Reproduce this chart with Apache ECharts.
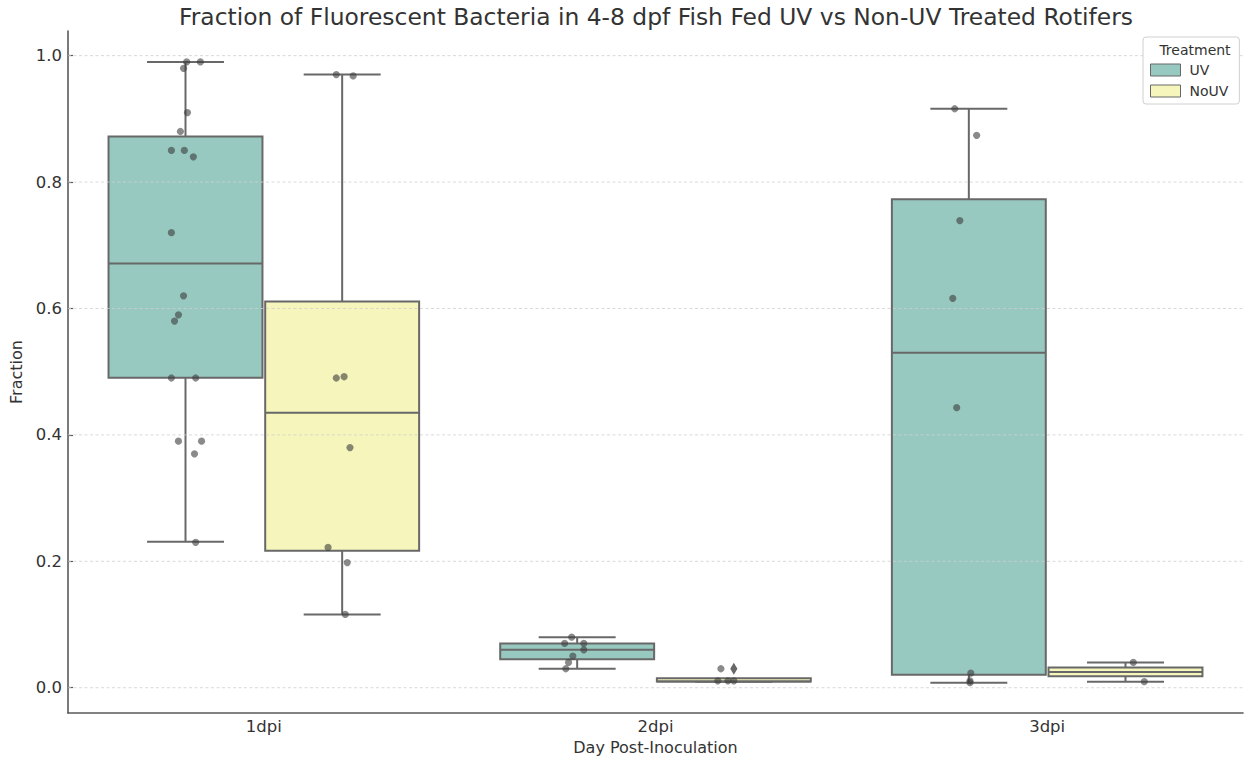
<!DOCTYPE html>
<html>
<head>
<meta charset="utf-8">
<script src="https://cdn.jsdelivr.net/npm/echarts@6.0.0/dist/echarts.min.js"></script>
<style>
  html, body { margin: 0; padding: 0; background: #ffffff; }
  #chart { width: 1244px; height: 759px; }
</style>
</head>
<body>
<div id="chart"></div>
<script>
// ---------------- data ----------------
const categories = ['1dpi', '2dpi', '3dpi'];
const hueNames = ['UV', 'NoUV'];
const yTicks = [0.0, 0.2, 0.4, 0.6, 0.8, 1.0];

// box summaries per category: [categoryIndex, whiskerLow, Q1, median, Q3, whiskerHigh]
const uvBoxes = [
  [0, 0.231, 0.4905, 0.671, 0.872, 0.990],
  [1, 0.030, 0.045, 0.060, 0.070, 0.080],
  [2, 0.008, 0.0205, 0.530, 0.773, 0.916]
];
const noUvBoxes = [
  [0, 0.116, 0.2166, 0.435, 0.611, 0.970],
  [1, 0.010, 0.010, 0.010, 0.015, 0.010],
  [2, 0.0095, 0.018, 0.025, 0.032, 0.040]
];
// box-plot fliers: [categoryIndex, value]
const noUvOutliers = [[1, 0.030]];

// individual fish (strip plot): [categoryIndex, value, jitter (category units)]
const uvPoints = [
  [0, 0.990, 0.003], [0, 0.990, 0.038], [0, 0.980, -0.005], [0, 0.910, 0.005],
  [0, 0.880, -0.013], [0, 0.850, -0.036], [0, 0.850, -0.003], [0, 0.840, 0.020],
  [0, 0.720, -0.036], [0, 0.620, -0.005], [0, 0.590, -0.018], [0, 0.580, -0.028],
  [0, 0.490, -0.036], [0, 0.490, 0.026], [0, 0.390, -0.018], [0, 0.390, 0.041],
  [0, 0.370, 0.023], [0, 0.230, 0.026],
  [1, 0.080, -0.014], [1, 0.070, -0.032], [1, 0.070, 0.017], [1, 0.060, 0.017],
  [1, 0.050, -0.011], [1, 0.040, -0.022], [1, 0.030, -0.029],
  [2, 0.916, -0.036], [2, 0.874, 0.020], [2, 0.739, -0.023], [2, 0.616, -0.041],
  [2, 0.443, -0.031], [2, 0.023, 0.005], [2, 0.011, 0.003], [2, 0.008, 0.003]
];
const noUvPoints = [
  [0, 0.970, -0.015], [0, 0.968, 0.028], [0, 0.490, -0.015], [0, 0.492, 0.005],
  [0, 0.380, 0.020], [0, 0.222, -0.036], [0, 0.198, 0.013], [0, 0.116, 0.008],
  [1, 0.030, -0.033], [1, 0.011, -0.041], [1, 0.011, -0.015], [1, 0.011, 0.000],
  [2, 0.040, 0.020], [2, 0.0095, 0.048]
];

// ---------------- styling ----------------
const UV_COLOR = '#97c9c0';
const NOUV_COLOR = '#f5f5bc';
const LINE = '#686868';
const AXIS = '#5a5a5a';
const TEXT = '#333333';
const FONT = 'DejaVu Sans';
const HUE_OFFSET = 0.2;     // seaborn dodge: +-0.2 category
const BOX_WIDTH = 0.393;    // in category units

function boxRender(side) {
  return function (params, api) {
    const cat = api.value(0);
    const bw = api.size([1, 0])[0];
    const cx = api.coord([cat, 0])[0] + side * HUE_OFFSET * bw;
    const w = BOX_WIDTH * bw, half = w / 2, cap = w / 4;
    const Y = v => api.coord([cat, v])[1];
    const lo = Y(api.value(1)), q1 = Y(api.value(2)), md = Y(api.value(3)),
          q3 = Y(api.value(4)), hi = Y(api.value(5));
    const ls = { stroke: LINE, lineWidth: 2, fill: null };
    return {
      type: 'group',
      children: [
        { type: 'line', shape: { x1: cx, y1: q1, x2: cx, y2: lo }, style: ls },
        { type: 'line', shape: { x1: cx, y1: q3, x2: cx, y2: hi }, style: ls },
        { type: 'line', shape: { x1: cx - cap, y1: lo, x2: cx + cap, y2: lo }, style: ls },
        { type: 'line', shape: { x1: cx - cap, y1: hi, x2: cx + cap, y2: hi }, style: ls },
        { type: 'rect', shape: { x: cx - half, y: q3, width: w, height: q1 - q3 },
          style: { fill: api.visual('color'), stroke: LINE, lineWidth: 2 } },
        { type: 'line', shape: { x1: cx - half, y1: md, x2: cx + half, y2: md }, style: ls }
      ]
    };
  };
}

function pointRender(side) {
  return function (params, api) {
    const cat = api.value(0);
    const bw = api.size([1, 0])[0];
    const p = api.coord([cat, api.value(1)]);
    const cx = p[0] + (side * HUE_OFFSET + api.value(2)) * bw;
    return { type: 'circle', shape: { cx: cx, cy: p[1], r: 3.6 },
             style: { fill: 'rgba(60,60,60,0.6)', stroke: null } };
  };
}

function outlierRender(side) {
  return function (params, api) {
    const cat = api.value(0);
    const bw = api.size([1, 0])[0];
    const p = api.coord([cat, api.value(1)]);
    const cx = p[0] + side * HUE_OFFSET * bw, cy = p[1];
    return { type: 'polygon',
             shape: { points: [[cx, cy - 6], [cx + 3.6, cy], [cx, cy + 6], [cx - 3.6, cy]] },
             style: { fill: LINE, stroke: null } };
  };
}

function gridRender(params, api) {
  const cs = params.coordSys;
  const y = api.coord([0, api.value(1)])[1];
  return { type: 'line', shape: { x1: cs.x, y1: y, x2: cs.x + cs.width, y2: y },
           style: { stroke: '#cfcfcf', lineWidth: 0.8, lineDash: [3, 2.5] } };
}

const chart = echarts.init(document.getElementById('chart'), null, { renderer: 'svg' });

chart.setOption({
  animation: false,
  backgroundColor: '#ffffff',
  textStyle: { fontFamily: FONT },
  title: [
    {
      text: 'Fraction of Fluorescent Bacteria in 4-8 dpf Fish Fed UV vs Non-UV Treated Rotifers',
      left: 651, top: 0, textAlign: 'center',
      textStyle: { fontFamily: FONT, fontSize: 23.4, fontWeight: 'normal', color: TEXT }
    },
    {
      text: 'Treatment',
      left: 1190, top: 38, textAlign: 'center',
      textStyle: { fontFamily: FONT, fontSize: 14, fontWeight: 'normal', color: TEXT }
    }
  ],
  legend: {
    left: 1143, top: 37,
    orient: 'vertical',
    padding: [26, 11, 6, 7],
    itemWidth: 30, itemHeight: 12, itemGap: 7,
    borderColor: '#d0d0d0', borderWidth: 1, borderRadius: 3,
    backgroundColor: '#ffffff',
    textStyle: { fontFamily: FONT, fontSize: 14, color: TEXT, padding: [0, 0, 0, 4] },
    data: [
      { name: hueNames[0], icon: 'rect', itemStyle: { color: UV_COLOR, borderColor: LINE, borderWidth: 1 } },
      { name: hueNames[1], icon: 'rect', itemStyle: { color: NOUV_COLOR, borderColor: LINE, borderWidth: 1 } }
    ]
  },
  grid: { left: 68, right: 1, top: 31, bottom: 46, containLabel: false, outerBoundsMode: 'none' },
  xAxis: {
    type: 'category',
    data: categories,
    boundaryGap: true,
    name: 'Day Post-Inoculation',
    nameLocation: 'middle',
    nameGap: 26,
    nameTextStyle: { fontFamily: FONT, fontSize: 16, color: TEXT, verticalAlign: 'top' },
    axisLine: { onZero: false, lineStyle: { color: AXIS, width: 1.6 } },
    axisTick: { alignWithLabel: true, inside: true, length: 5, lineStyle: { color: AXIS, width: 1.2 } },
    axisLabel: { fontFamily: FONT, fontSize: 16.5, color: TEXT, margin: 5 },
    splitLine: { show: false }
  },
  yAxis: {
    type: 'value',
    min: -0.04, max: 1.039,
    name: 'Fraction',
    nameLocation: 'middle',
    nameRotate: 90,
    nameGap: 41,
    nameTextStyle: { fontFamily: FONT, fontSize: 16, color: TEXT },
    axisLine: { show: true, onZero: false, lineStyle: { color: AXIS, width: 1.6 } },
    axisTick: { show: true, inside: true, length: 5, customValues: yTicks,
                lineStyle: { color: AXIS, width: 1.2 } },
    axisLabel: { fontFamily: FONT, fontSize: 16.5, color: TEXT, margin: 6,
                 customValues: yTicks, formatter: v => v.toFixed(1) },
    splitLine: { show: false }
  },
  series: [
    {
      type: 'custom', name: 'grid', z: 3, silent: true,
      renderItem: gridRender,
      data: yTicks.map(v => [0, v]),
      encode: { x: 0, y: 1 }
    },
    {
      type: 'custom', name: hueNames[0], z: 2,
      itemStyle: { color: UV_COLOR },
      renderItem: boxRender(-1),
      data: uvBoxes,
      encode: { x: 0, y: [1, 2, 3, 4, 5] }
    },
    {
      type: 'custom', name: hueNames[1], z: 2,
      itemStyle: { color: NOUV_COLOR },
      renderItem: boxRender(1),
      data: noUvBoxes,
      encode: { x: 0, y: [1, 2, 3, 4, 5] }
    },
    {
      type: 'custom', name: 'NoUV fliers', z: 4,
      renderItem: outlierRender(1),
      data: noUvOutliers,
      encode: { x: 0, y: 1 }
    },
    {
      type: 'custom', name: 'UV points', z: 5,
      renderItem: pointRender(-1),
      data: uvPoints,
      encode: { x: 0, y: 1 }
    },
    {
      type: 'custom', name: 'NoUV points', z: 5,
      renderItem: pointRender(1),
      data: noUvPoints,
      encode: { x: 0, y: 1 }
    }
  ]
});
</script>
</body>
</html>
